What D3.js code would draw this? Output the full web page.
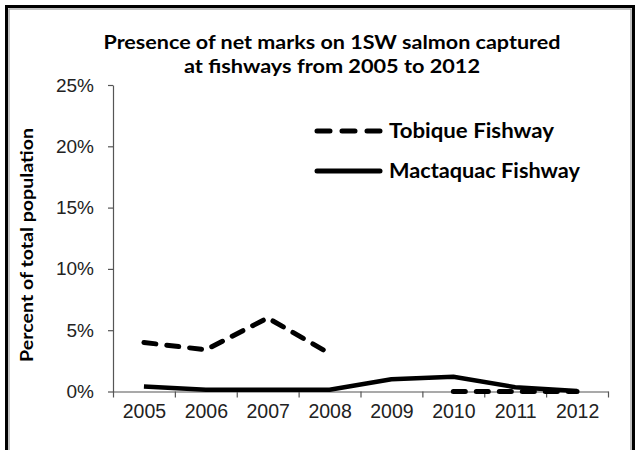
<!DOCTYPE html>
<html>
<head>
<meta charset="utf-8">
<script src="https://cdn.jsdelivr.net/npm/d3@7"></script>
<style>
  html, body { margin: 0; padding: 0; background: #fff; }
  svg { display: block; }
</style>
</head>
<body>
<div id="chart"></div>
<script>
// chart data (percent of total population)
var years = ["2005", "2006", "2007", "2008", "2009", "2010", "2011", "2012"];
var tobique = [4.0, 3.4, 6.0, 3.1, null, 0, 0, 0];
var mactaquac = [0.4, 0.15, 0.15, 0.15, 1.0, 1.2, 0.35, 0.05];
var yTicks = [0, 5, 10, 15, 20, 25];
var seriesNames = ["Tobique Fishway", "Mactaquac Fishway"];
var titleLines = ["Presence of net marks on 1SW salmon captured", "at fishways from 2005 to 2012"];
var yTitle = "Percent of total population";

var W = 638, H = 450;
var plotL = 113, plotR = 608, plotT = 85, plotB = 391.5;
var ink = "#000";
var labelFont = "'Liberation Sans', Arial, sans-serif";
var boldFont = "Lato, 'Open Sans', sans-serif";

var svg = d3.select("#chart").append("svg")
  .attr("width", W)
  .attr("height", H);

// frame
svg.append("rect")
  .attr("x", 6.5).attr("y", 6.5)
  .attr("width", 627).attr("height", 460)
  .attr("fill", "none")
  .attr("stroke", "#000")
  .attr("stroke-width", 3);
svg.append("rect")
  .attr("x", 9).attr("y", 9)
  .attr("width", 622).attr("height", 460)
  .attr("fill", "none")
  .attr("stroke", "#9a9a9a")
  .attr("stroke-width", 1.2);

var x = d3.scalePoint().domain(years).range([plotL, plotR]).padding(0.5);
var xEdge = d3.scaleLinear().domain([0, years.length]).range([plotL, plotR]);
var y = d3.scaleLinear().domain([0, 25]).range([plotB, plotT]);

// y axis
var yAxis = svg.append("g")
  .attr("transform", "translate(" + plotL + ",0)")
  .call(d3.axisLeft(y).tickValues(yTicks).tickSize(5).tickSizeOuter(0).tickPadding(14)
    .tickFormat(function(d){ return d + "%"; }));
yAxis.select(".domain").attr("stroke", "#555").attr("stroke-width", 1.2);
yAxis.selectAll(".tick line").attr("stroke", "#555").attr("stroke-width", 1.2);
yAxis.selectAll(".tick text")
  .attr("font-family", labelFont)
  .attr("font-size", 19)
  .attr("fill", "#222");

// x axis: boundary ticks
var xAxis = svg.append("g")
  .attr("transform", "translate(0," + plotB + ")")
  .call(d3.axisBottom(xEdge).ticks(years.length).tickSize(6).tickSizeOuter(0).tickFormat(""));
xAxis.select(".domain").attr("stroke", "#555").attr("stroke-width", 1.2);
xAxis.selectAll(".tick line").attr("stroke", "#555").attr("stroke-width", 1.2);

// x axis: category labels
var xLabels = svg.append("g")
  .attr("transform", "translate(0," + plotB + ")")
  .call(d3.axisBottom(x).tickSize(0).tickPadding(13));
xLabels.select(".domain").remove();
xLabels.selectAll(".tick text")
  .attr("font-family", labelFont)
  .attr("font-size", 19.5)
  .attr("fill", "#222");

// lines
var line = d3.line()
  .defined(function(d){ return d.v != null; })
  .x(function(d){ return x(d.year); })
  .y(function(d){ return y(d.v); });

function pts(vals){
  return years.map(function(yr, i){ return {year: yr, v: vals[i]}; });
}

svg.append("path")
  .attr("d", line(pts(mactaquac)))
  .attr("fill", "none")
  .attr("stroke", ink)
  .attr("stroke-width", 4.5)
  .attr("stroke-linejoin", "round");

svg.append("path")
  .attr("d", line(pts(tobique)))
  .attr("fill", "none")
  .attr("stroke", ink)
  .attr("stroke-width", 5)
  .attr("stroke-linecap", "round")
  .attr("stroke-linejoin", "round")
  .attr("stroke-dasharray", "12,11");

// title
var titleY = [49, 73], titleW = [457, 296];
svg.append("g").selectAll("text")
  .data(titleLines)
  .enter().append("text")
  .attr("x", 332)
  .attr("y", function(d, i){ return titleY[i]; })
  .attr("text-anchor", "middle")
  .attr("font-family", boldFont)
  .attr("font-weight", "bold")
  .attr("font-size", 19)
  .attr("textLength", function(d, i){ return titleW[i]; })
  .attr("lengthAdjust", "spacingAndGlyphs")
  .attr("fill", "#000")
  .text(function(d){ return d; });

// y title
svg.append("text")
  .attr("transform", "translate(33,245) rotate(-90)")
  .attr("text-anchor", "middle")
  .attr("font-family", boldFont)
  .attr("font-weight", "bold")
  .attr("font-size", 16.5)
  .attr("textLength", 234)
  .attr("lengthAdjust", "spacingAndGlyphs")
  .attr("fill", "#000")
  .text(yTitle);

// legend
var legY = [131, 171], legW = [165, 191];
var leg = svg.append("g").selectAll("g")
  .data(seriesNames)
  .enter().append("g")
  .attr("transform", function(d, i){ return "translate(0," + legY[i] + ")"; });
leg.append("line")
  .attr("x1", 317).attr("x2", 380)
  .attr("stroke", ink)
  .attr("stroke-width", 5)
  .attr("stroke-linecap", "round")
  .attr("stroke-dasharray", function(d, i){ return i == 0 ? "13,12" : null; });
leg.append("text")
  .attr("x", 389)
  .attr("y", 7)
  .attr("font-family", boldFont)
  .attr("font-weight", "bold")
  .attr("font-size", 20)
  .attr("textLength", function(d, i){ return legW[i]; })
  .attr("lengthAdjust", "spacingAndGlyphs")
  .attr("fill", "#000")
  .text(function(d){ return d; });
</script>
</body>
</html>
